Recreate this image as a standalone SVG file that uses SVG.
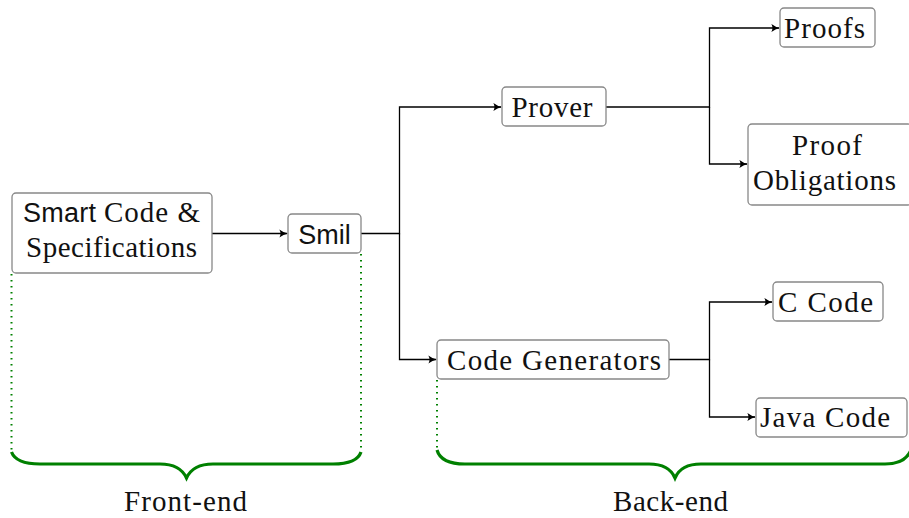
<svg xmlns="http://www.w3.org/2000/svg" width="909" height="518" viewBox="0 0 909 518">
<defs>
<marker id="arr" viewBox="0 0 10 10" refX="9" refY="5" markerWidth="9" markerHeight="9" markerUnits="userSpaceOnUse" orient="auto">
<path d="M0.5,0.5 Q5,4 10,5 Q5,6 0.5,9.5 Q3,5 0.5,0.5 Z" fill="#000"/>
</marker>
<style>
.box{fill:#fff;stroke:#888;stroke-width:1.3}
.t{font-family:"Liberation Serif",serif;font-size:29px;fill:#111;text-anchor:middle}
.s{font-family:"Liberation Sans",sans-serif;font-size:27px;fill:#111}
.c{fill:none;stroke:#000;stroke-width:1.3}
.dot{fill:none;stroke:#008000;stroke-width:2;stroke-dasharray:1.5 4.5}
.brace{fill:none;stroke:#008000;stroke-width:3.2}
</style>
</defs>
<rect width="909" height="518" fill="#fff"/>
<g id="connectors">
<path class="c" d="M212,233.5 H287" marker-end="url(#arr)"/>
<path class="c" d="M361,233.5 H399.5 V107 H501" marker-end="url(#arr)"/>
<path class="c" d="M399.5,233.5 V359.5 H436" marker-end="url(#arr)"/>
<path class="c" d="M606,107 H709.5 V28 H779" marker-end="url(#arr)"/>
<path class="c" d="M709.5,107 V164 H747" marker-end="url(#arr)"/>
<path class="c" d="M669,359.5 H709.5 V302 H772" marker-end="url(#arr)"/>
<path class="c" d="M709.5,359.5 V417 H755" marker-end="url(#arr)"/>
</g>
<g id="smart">
<rect class="box" x="12" y="193" width="200" height="80" rx="4"/>
<text class="s" x="23" y="222" textLength="73" lengthAdjust="spacing">Smart</text>
<text class="t" x="104" y="222" style="text-anchor:start" textLength="96" lengthAdjust="spacing">Code &amp;</text>
<text class="t" x="111.5" y="257" textLength="171" lengthAdjust="spacing">Specifications</text>
</g>
<g id="smil">
<rect class="box" x="288" y="214" width="73" height="39" rx="4"/>
<text class="s" x="324.5" y="244" style="text-anchor:middle">Smil</text>
</g>
<g id="prover">
<rect class="box" x="502" y="87" width="104" height="39" rx="4"/>
<text class="t" x="552" y="117" textLength="81" lengthAdjust="spacing">Prover</text>
</g>
<g id="proofs">
<rect class="box" x="780" y="8" width="95" height="39" rx="4"/>
<text class="t" x="824.5" y="38" textLength="81" lengthAdjust="spacing">Proofs</text>
</g>
<g id="obligations">
<rect class="box" x="748" y="124" width="164" height="81" rx="4"/>
<text class="t" x="827" y="155" textLength="70" lengthAdjust="spacing">Proof</text>
<text class="t" x="824.5" y="190" textLength="143" lengthAdjust="spacing">Obligations</text>
</g>
<g id="codegen">
<rect class="box" x="437" y="340" width="232" height="39" rx="4"/>
<text class="t" x="554" y="370" textLength="214" lengthAdjust="spacing">Code Generators</text>
</g>
<g id="ccode">
<rect class="box" x="773" y="282" width="110" height="39" rx="4"/>
<text class="t" x="825.5" y="312" textLength="95" lengthAdjust="spacing">C Code</text>
</g>
<g id="javacode">
<rect class="box" x="756" y="398" width="151" height="39" rx="4"/>
<text class="t" x="825" y="427" textLength="130" lengthAdjust="spacing">Java Code</text>
</g>
<g id="frontend">
<path class="dot" d="M11.5,274 V452"/>
<path class="dot" d="M361,254 V452"/>
<path class="brace" d="M11.5,452 Q16,464 40,464 H160 Q180,464 186.5,478 Q193,464 213,464 H333 Q357,464 361,452"/>
<text class="t" x="185.5" y="511" textLength="123" lengthAdjust="spacing">Front-end</text>
</g>
<g id="backend">
<path class="dot" d="M437,380 V450"/>
<path class="brace" d="M437,450 Q441,464 465,464 H649 Q669,464 675,478 Q681,464 701,464 H885 Q905,464 911,450"/>
<text class="t" x="670.5" y="511" textLength="115" lengthAdjust="spacing">Back-end</text>
</g>
</svg>
